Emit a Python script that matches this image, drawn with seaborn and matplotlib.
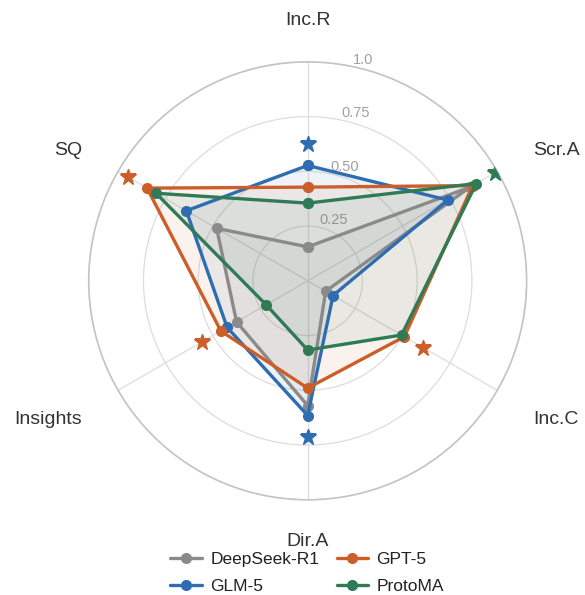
import numpy as np
import pandas as pd
import matplotlib
matplotlib.use('Agg')
import matplotlib.pyplot as plt
import seaborn as sns

categories = ['Inc.R', 'Scr.A', 'Inc.C', 'Dir.A', 'Insights', 'SQ']
models = ['DeepSeek-R1', 'GLM-5', 'GPT-5', 'ProtoMA']
deepseek_r1 = [0.155, 0.855, 0.095, 0.57, 0.375, 0.48]
glm_5 = [0.527, 0.738, 0.134, 0.615, 0.425, 0.64]
gpt_5 = [0.428, 0.87, 0.51, 0.49, 0.458, 0.847]
protoma = [0.355, 0.889, 0.495, 0.316, 0.219, 0.80]
colors = ['#8a8a8a', '#2e6db1', '#cc5f29', '#2e7b56']
tick_values = [0.25, 0.5, 0.75, 1.0]
tick_labels = ['0.25', '0.50', '0.75', '1.0']

sns.set_theme(style='whitegrid')
plt.rcParams['font.family'] = ['Liberation Sans', 'DejaVu Sans']

df = pd.DataFrame([deepseek_r1, glm_5, gpt_5, protoma], index=models, columns=categories)
angles = np.linspace(0, 2 * np.pi, len(categories), endpoint=False)
closed = np.append(angles, angles[0])

fig = plt.figure(figsize=(5.85, 5.95), dpi=100)
ax = fig.add_axes([0.1516, 0.160, 0.7487, 0.736], projection='polar')
ax.set_theta_offset(np.pi / 2)
ax.set_theta_direction(-1)

for name, color in zip(models, colors):
    vals = df.loc[name].values
    r = np.append(vals, vals[0])
    sns.lineplot(x=closed, y=r, ax=ax, sort=False, estimator=None, color=color,
                 linewidth=2.4, marker='o', markersize=8, markeredgewidth=0,
                 label=name, legend=False, zorder=3)
    ax.fill(closed, r, color=color, alpha=0.08, zorder=2)

# star for the best model on each axis
for i, cat in enumerate(categories):
    best = df[cat].idxmax()
    ax.plot(angles[i], df[cat].max() + 0.1, marker='*', markersize=12,
            color=colors[models.index(best)], linestyle='none', zorder=4)

ax.set_ylim(0, 1)
ax.set_xticks(angles)
ax.set_xticklabels(categories, fontsize=14, color='#333333')
ax.tick_params(axis='x', pad=17)
for lab, a in zip(ax.get_xticklabels(), angles):
    if np.isclose(a, 0) or np.isclose(a, np.pi):
        lab.set_horizontalalignment('center')
    elif a < np.pi:
        lab.set_horizontalalignment('left')
    else:
        lab.set_horizontalalignment('right')
    # lower side labels sit a bit lower
    if np.pi / 2 < a < np.pi or np.pi < a < 3 * np.pi / 2:
        lab.set_verticalalignment('top')

ax.set_rgrids(tick_values, labels=tick_labels, angle=12, fontsize=10.5, color='#a0a0a0')
ax.grid(color='#dddddd', linewidth=0.9)
ax.spines['polar'].set_color('#c4c4c4')
ax.spines['polar'].set_linewidth(1.2)
ax.set_xlabel('')
ax.set_ylabel('')

handles, labels = ax.get_legend_handles_labels()
fig.legend(handles, labels, loc='center', bbox_to_anchor=(0.525, 0.037), ncol=2,
           frameon=False, fontsize=12.5, columnspacing=1.0, handlelength=1.8,
           handletextpad=0.5, labelspacing=0.7, labelcolor='#222222')

fig.savefig('out.png', dpi=100)
plt.close()
